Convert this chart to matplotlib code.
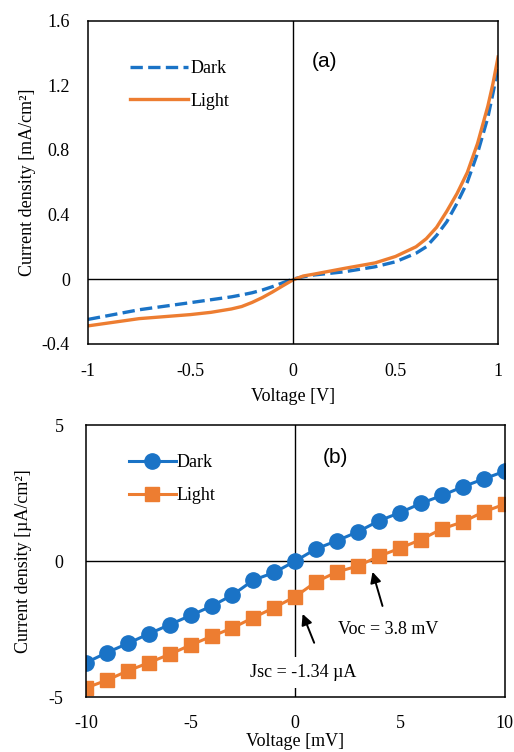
import numpy as np
import matplotlib
matplotlib.use('Agg')
import matplotlib.pyplot as plt

plt.rcParams['font.family'] = ['Liberation Serif', 'DejaVu Serif']
plt.rcParams['axes.unicode_minus'] = False

# (a) J-V curves, full range
v_a = [-1.0, -0.75, -0.5, -0.4, -0.3, -0.25, -0.2, -0.15, -0.1, -0.05, 0.0, 0.05, 0.1, 0.25, 0.4, 0.5,
       0.6, 0.65, 0.7, 0.75, 0.8, 0.85, 0.9, 0.95, 0.975, 1.0]
dark_a = [-0.25, -0.19, -0.146, -0.128, -0.11, -0.098, -0.085, -0.068, -0.047, -0.023, 0.0, 0.014, 0.025,
          0.045, 0.076, 0.107, 0.16, 0.20, 0.27, 0.355, 0.47, 0.60, 0.78, 1.00, 1.15, 1.31]
light_a = [-0.29, -0.245, -0.22, -0.206, -0.185, -0.17, -0.145, -0.115, -0.08, -0.042, -0.005, 0.019, 0.03,
           0.066, 0.10, 0.14, 0.20, 0.25, 0.32, 0.42, 0.53, 0.66, 0.84, 1.07, 1.21, 1.375]

# (b) J-V points around zero
v_b = list(range(-10, 11))
dark_b = [-3.74, -3.37, -3.03, -2.68, -2.34, -2.0, -1.66, -1.25, -0.70, -0.42, 0.0,
          0.45, 0.75, 1.08, 1.48, 1.78, 2.12, 2.41, 2.73, 3.02, 3.30]
light_b = [-4.67, -4.38, -4.04, -3.74, -3.43, -3.09, -2.77, -2.46, -2.08, -1.71, -1.31,
           -0.76, -0.40, -0.18, 0.18, 0.47, 0.79, 1.18, 1.44, 1.81, 2.09]

blue = '#1a73c6'
orange = '#ed7d31'
fs = 13

fig = plt.figure(figsize=(5.14, 7.52), dpi=100)

# top panel
ax1 = fig.add_axes([0.171, 0.543, 0.798, 0.4295])
ax1.plot(v_a, dark_a, '--', color=blue, lw=2.4, label='Dark')
ax1.plot(v_a, light_a, '-', color=orange, lw=2.4, label='Light')
ax1.axhline(0, color='black', lw=1)
ax1.axvline(0, color='black', lw=1)
ax1.set_xlim(-1, 1)
ax1.set_ylim(-0.4, 1.6)
ax1.set_xticks([-1, -0.5, 0, 0.5, 1])
ax1.set_xticklabels(['-1', '-0.5', '0', '0.5', '1'])
ax1.set_yticks([-0.4, 0, 0.4, 0.8, 1.2, 1.6])
ax1.set_yticklabels(['-0.4', '0', '0.4', '0.8', '1.2', '1.6'])
ax1.tick_params(length=0, labelsize=fs)
ax1.tick_params(axis='x', pad=14)
ax1.tick_params(axis='y', pad=13)
ax1.set_xlabel('Voltage [V]', fontsize=fs, labelpad=6)
ax1.set_ylabel('Current density [mA/cm²]', fontsize=fs, labelpad=4)
ax1.text(0.546, 0.873, '(a)', transform=ax1.transAxes, fontsize=15, va='center',
         family=['Liberation Sans', 'DejaVu Sans'])
ax1.legend(loc='upper left', bbox_to_anchor=(0.085, 0.9), frameon=False, fontsize=fs,
           handlelength=3.2, handletextpad=0.15, labelspacing=0.85, borderaxespad=0)

# bottom panel
ax2 = fig.add_axes([0.167, 0.0731, 0.815, 0.3617])
ax2.plot(v_b, dark_b, '-o', color=blue, lw=2.2, ms=11, label='Dark')
ax2.plot(v_b, light_b, '-s', color=orange, lw=2.2, ms=10, label='Light')
ax2.axhline(0, color='black', lw=1, zorder=0)
ax2.axvline(0, color='black', lw=1, zorder=0)
ax2.set_xlim(-10, 10)
ax2.set_ylim(-5, 5)
ax2.set_xticks([-10, -5, 0, 5, 10])
ax2.set_xticklabels(['-10', '-5', '0', '5', '10'])
ax2.set_yticks([-5, 0, 5])
ax2.set_yticklabels(['-5', '0', '5'])
ax2.tick_params(length=0, labelsize=fs)
ax2.tick_params(axis='x', pad=13)
ax2.tick_params(axis='y', pad=16)
ax2.set_xlabel('Voltage [mV]', fontsize=fs, labelpad=1)
ax2.set_ylabel('Current density [µA/cm²]', fontsize=fs, labelpad=12)
ax2.text(0.566, 0.88, '(b)', transform=ax2.transAxes, fontsize=15, va='center',
         family=['Liberation Sans', 'DejaVu Sans'])
ax2.legend(loc='upper left', bbox_to_anchor=(0.085, 0.92), frameon=False, fontsize=fs,
           handlelength=2.6, handletextpad=0.05, labelspacing=0.9, borderaxespad=0)

arrow = dict(arrowstyle='-|>', color='black', lw=1.4, mutation_scale=16)
ax2.annotate('', xy=(0.3, -1.85), xytext=(0.95, -3.1), arrowprops=arrow)
ax2.annotate('', xy=(3.65, -0.3), xytext=(4.2, -1.75), arrowprops=arrow)
ax2.text(0.4, -4.1, 'Jsc = -1.34 µA', ha='center', va='center', fontsize=fs,
         bbox=dict(facecolor='white', edgecolor='none', pad=5))
ax2.text(4.45, -2.5, 'Voc = 3.8 mV', ha='center', va='center', fontsize=fs)

for ax in (ax1, ax2):
    for s in ax.spines.values():
        s.set_linewidth(1.1)

fig.savefig('out.png', dpi=100)
